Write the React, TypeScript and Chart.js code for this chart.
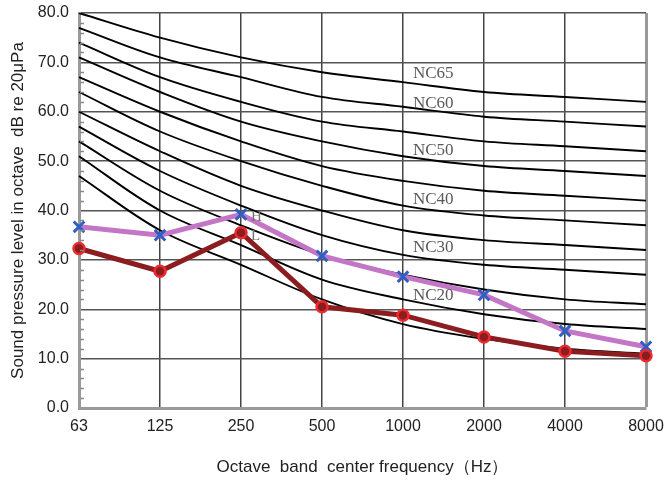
import React, { useEffect, useRef } from "react";
import { Chart, registerables } from "chart.js";

Chart.register(...registerables);

const categories = ["63", "125", "250", "500", "1000", "2000", "4000", "8000"];
const yTicks = [0, 10, 20, 30, 40, 50, 60, 70, 80];

const nc15 = [47, 36, 29, 22, 17, 14, 12, 11];
const nc20 = [51, 40, 33, 26, 22, 19, 17, 16];
const nc25 = [54, 44, 37, 31, 27, 24, 22, 21];
const nc30 = [57, 48, 41, 35, 31, 29, 28, 27];
const nc35 = [60, 52, 45, 40, 36, 34, 33, 32];
const nc40 = [64, 56, 50, 45, 41, 39, 38, 37];
const nc45 = [67, 60, 54, 49, 46, 44, 43, 42];
const nc50 = [71, 64, 58, 54, 51, 49, 48, 47];
const nc55 = [74, 67, 62, 58, 56, 54, 53, 52];
const nc60 = [77, 71, 67, 63, 61, 59, 58, 57];
const nc65 = [80, 75, 71, 68, 66, 64, 63, 62];

const seriesH = [36.7, 35.0, 39.2, 30.8, 26.6, 22.9, 15.6, 12.4];
const seriesL = [32.3, 27.7, 35.5, 20.5, 18.8, 14.4, 11.5, 10.6];

const ncLabelNames = ["NC65", "NC60", "NC50", "NC40", "NC30", "NC20"];
const ncLabelLevels = [67.8, 61.7, 52.2, 42.3, 32.4, 22.7];

const yTitle = "Sound pressure level in octave  dB re 20\u03bcPa";
const xTitle = "Octave  band  center frequency\uff08Hz\uff09";

const ncCurves = [nc15, nc20, nc25, nc30, nc35, nc40, nc45, nc50, nc55, nc60, nc65];

const overlayPlugin = {
  id: "overlay",
  afterDraw(chart: any) {
    const { ctx, scales } = chart;
    const xs = scales.x;
    const ys = scales.y;
    ctx.save();
    ctx.strokeStyle = "#8a8a8a";
    ctx.lineWidth = 1.5;
    for (let v = 0; v <= 80; v += 2) {
      if (v % 10 === 0) continue;
      const y = Math.round(ys.getPixelForValue(v)) + 0.5;
      ctx.beginPath();
      ctx.moveTo(xs.left + 1, y);
      ctx.lineTo(xs.left + 5, y);
      ctx.stroke();
    }
    ctx.fillStyle = "#5a5a5a";
    ctx.font = "17px 'Liberation Serif', serif";
    ctx.textAlign = "left";
    ctx.textBaseline = "middle";
    const lx = xs.getPixelForValue(4) + 10;
    ncLabelNames.forEach((t, i) => {
      ctx.fillText(t, lx, ys.getPixelForValue(ncLabelLevels[i]));
    });
    ctx.font = "15px 'Liberation Serif', serif";
    ctx.fillStyle = "#707070";
    const hx = xs.getPixelForValue(2) + 10;
    ctx.fillText("H", hx, ys.getPixelForValue(seriesH[2]) + 3);
    ctx.fillText("L", hx, ys.getPixelForValue(seriesL[2]) + 3);
    ctx.restore();
  },
};

export default function App() {
  const ref = useRef<HTMLCanvasElement>(null);
  useEffect(() => {
    if (!ref.current) return;
    const last = categories.length - 1;
    const ncSets = ncCurves.map((d, i) => ({
      label: "NC" + (15 + i * 5),
      data: d,
      borderColor: "#000",
      borderWidth: 1.9,
      pointRadius: 0,
      tension: 0.35,
      order: 10,
    }));
    const chart = new Chart(ref.current, {
      type: "line",
      data: {
        labels: categories,
        datasets: [
          ...ncSets,
          {
            label: "H",
            data: seriesH,
            borderColor: "#c476c6",
            borderWidth: 5,
            pointStyle: "cross",
            rotation: 45,
            pointRadius: 7.5,
            pointBorderWidth: 3,
            pointBorderColor: "#2f5fc4",
            pointBackgroundColor: "#2f5fc4",
            order: 2,
          },
          {
            label: "L",
            data: seriesL,
            borderColor: "#8b1c1f",
            borderWidth: 5,
            pointStyle: "circle",
            pointRadius: 5.5,
            pointBorderWidth: 2.5,
            pointBorderColor: "#ee2a2e",
            pointBackgroundColor: "#8b1c1f",
            order: 1,
          },
        ],
      },
      options: {
        animation: false,
        responsive: true,
        maintainAspectRatio: false,
        layout: { padding: { left: 0, right: 22, top: 13, bottom: 0 } },
        plugins: { legend: { display: false }, tooltip: { enabled: false } },
        scales: {
          x: {
            type: "category",
            offset: false,
            grid: {
              drawTicks: false,
              color: (c: any) => (c.index === last ? "#9a9a9a" : "#444"),
              lineWidth: (c: any) => (c.index === last ? 3 : 1.5),
            },
            border: { color: "#9a9a9a", width: 3 },
            ticks: {
              padding: 9,
              autoSkip: false,
              maxRotation: 0,
              color: "#222",
              font: { family: "'Liberation Sans', Arial, sans-serif", size: 16 },
            },
            title: {
              display: true,
              text: xTitle,
              color: "#222",
              font: { family: "'Liberation Sans', Arial, sans-serif", size: 17 },
              padding: { top: 4, bottom: 3 },
            },
            afterFit: (s: any) => {
              s.height = 73;
              s.paddingLeft = 0;
              s.paddingRight = 0;
            },
          },
          y: {
            min: 0,
            max: 80,
            afterBuildTicks: (s: any) => {
              s.ticks = yTicks.map((v) => ({ value: v }));
            },
            grid: { drawTicks: false, color: "#555", lineWidth: 1.5 },
            border: { color: "#9a9a9a", width: 3 },
            ticks: {
              padding: 10,
              color: "#222",
              font: { family: "'Liberation Sans', Arial, sans-serif", size: 16 },
              callback: (v: any) => Number(v).toFixed(1),
            },
            title: {
              display: true,
              text: yTitle,
              color: "#222",
              font: { family: "'Liberation Sans', Arial, sans-serif", size: 17 },
              padding: { top: 8, bottom: 4 },
            },
            afterFit: (s: any) => {
              s.width = 79;
              s.paddingTop = 0;
              s.paddingBottom = 0;
            },
          },
        },
      },
      plugins: [overlayPlugin],
    });
    return () => chart.destroy();
  }, []);
  return (
    <div style={{ position: "fixed", left: 0, top: 0, width: 668, height: 481, background: "#fff" }}>
      <canvas ref={ref} />
    </div>
  );
}
